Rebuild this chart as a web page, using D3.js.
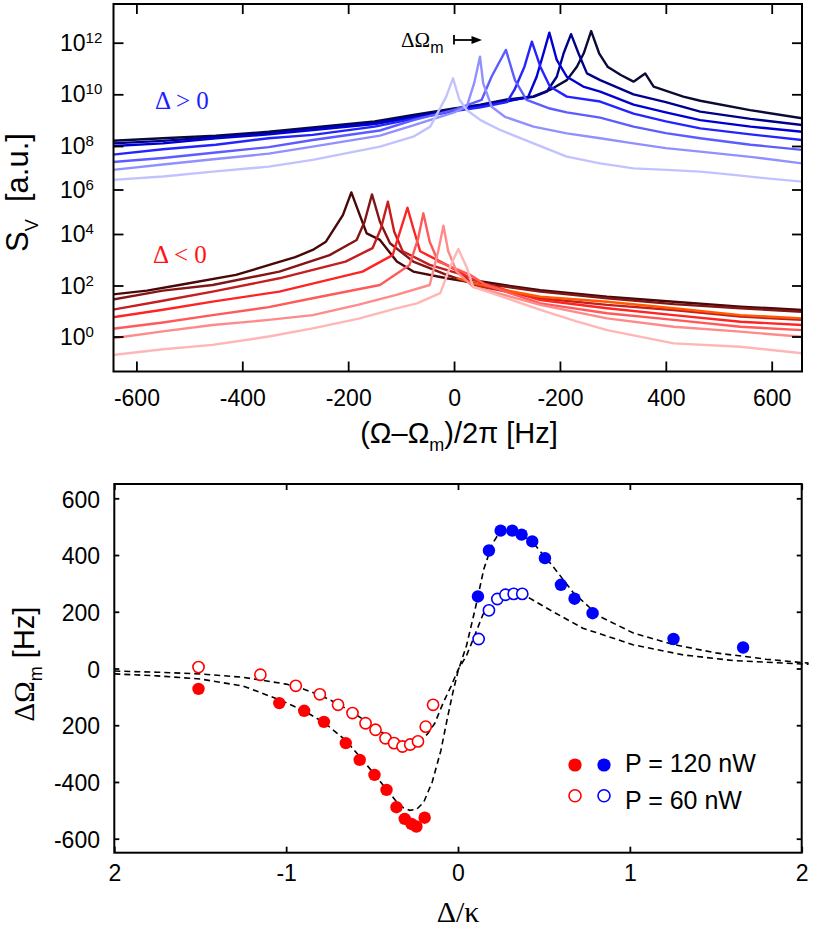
<!DOCTYPE html>
<html>
<head>
<meta charset="utf-8">
<script src="https://cdn.jsdelivr.net/npm/d3@7"></script>
<style>
  body { margin: 0; background: #fff; }
  svg { display: block; }
  text { font-family: "Liberation Sans", Arial, sans-serif; fill: #000; }
  .serif { font-family: "Liberation Serif", "Times New Roman", serif; }
</style>
</head>
<body>
<svg id="chart" width="830" height="929"></svg>
<script>
// ---- Top panel: spectra, [detuning in Hz, log10 S_V] ----
const topXTicks = [-600, -400, -200, 0, 200, 400, 600];
const topXLabels = ['-600', '-400', '-200', '0', '-200', '400', '600'];
const topYExps = [0, 2, 4, 6, 8, 10, 12];

// Delta > 0 (blue), lightest first
const blue1 = [[-645, 6.44], [-550, 6.6], [-455, 6.82], [-350, 7.05], [-267, 7.36], [-140, 7.97], [-77, 8.36], [-45, 8.75], [-15, 9.9], [-2, 10.62], [10, 9.8], [24, 9.39], [50, 9.0], [87, 8.62], [150, 8.1], [213, 7.51], [276, 7.2], [339, 6.97], [402, 6.9], [465, 6.82], [528, 6.67], [591, 6.51], [658, 6.36]];
const blue2 = [[-645, 6.9], [-550, 7.15], [-450, 7.4], [-350, 7.65], [-267, 7.97], [-140, 8.4], [-77, 8.8], [0, 9.3], [24, 9.52], [38, 10.43], [49, 11.46], [55, 10.43], [71, 9.52], [96, 9.13], [150, 8.75], [213, 8.49], [276, 8.3], [339, 8.1], [400, 7.9], [465, 7.74], [560, 7.5], [658, 7.2]];
const blue3 = [[-645, 7.26], [-550, 7.45], [-450, 7.7], [-350, 7.95], [-267, 8.23], [-140, 8.6], [-77, 9.0], [0, 9.4], [52, 9.78], [71, 10.69], [98, 11.72], [115, 10.55], [137, 9.78], [181, 9.45], [213, 9.3], [276, 9.1], [339, 8.75], [400, 8.5], [465, 8.3], [560, 8.05], [658, 7.82]];
const blue4 = [[-645, 7.6], [-550, 7.85], [-450, 8.05], [-350, 8.3], [-267, 8.43], [-150, 8.75], [-77, 9.05], [0, 9.35], [50, 9.5], [100, 9.7], [114, 10.17], [133, 11.07], [147, 12.04], [163, 11.07], [181, 10.3], [213, 9.91], [276, 9.72], [339, 9.25], [400, 8.95], [465, 8.68], [560, 8.45], [658, 8.23]];
const blue5 = [[-645, 8.0], [-550, 8.1], [-450, 8.3], [-350, 8.45], [-267, 8.62], [-150, 8.85], [-77, 9.1], [0, 9.38], [50, 9.55], [100, 9.72], [140, 9.9], [156, 10.68], [169, 11.59], [180, 12.39], [194, 11.33], [213, 10.68], [244, 10.3], [276, 10.1], [339, 9.6], [400, 9.3], [465, 9.0], [560, 8.75], [658, 8.55]];
const blue6 = [[-645, 8.1], [-550, 8.2], [-450, 8.35], [-350, 8.5], [-267, 8.68], [-150, 8.9], [-77, 9.15], [0, 9.4], [50, 9.58], [100, 9.75], [150, 9.9], [175, 10.1], [194, 10.68], [207, 11.59], [221, 12.33], [235, 11.59], [251, 10.81], [276, 10.55], [339, 10.0], [400, 9.7], [465, 9.33], [560, 9.05], [658, 8.81]];
const blue7 = [[-645, 8.2], [-550, 8.3], [-450, 8.4], [-350, 8.55], [-267, 8.72], [-150, 8.95], [-77, 9.2], [0, 9.45], [50, 9.6], [100, 9.8], [150, 9.92], [181, 10.17], [213, 10.55], [232, 11.07], [245, 11.59], [259, 12.45], [274, 11.59], [290, 11.07], [315, 10.75], [339, 10.49], [361, 10.81], [377, 10.3], [433, 9.91], [465, 9.75], [559, 9.39], [658, 9.07]];
const blueColors = ['#c2c2ff', '#9090ff', '#5c5cff', '#2424ff', '#0000d2', '#00008c', '#0a0a36'];

// Delta < 0 (red), lightest first
const red1 = [[-645, -0.73], [-550, -0.5], [-456, -0.33], [-350, 0.0], [-267, 0.32], [-180, 0.7], [-109, 1.1], [-70, 1.3], [-26, 1.7], [-8, 2.7], [8, 3.42], [24, 2.7], [36, 1.95], [100, 1.5], [163, 1.04], [230, 0.6], [289, 0.25], [415, -0.27], [541, -0.4], [658, -0.66]];
const red2 = [[-645, -0.07], [-550, 0.2], [-456, 0.45], [-350, 0.65], [-267, 0.84], [-180, 1.25], [-109, 1.63], [-46, 2.02], [-30, 3.33], [-20, 4.37], [-11, 3.33], [5, 2.54], [36, 1.95], [100, 1.6], [163, 1.24], [289, 0.71], [415, 0.38], [541, 0.19], [658, -0.01]];
const red3 = [[-645, 0.3], [-550, 0.55], [-456, 0.84], [-350, 1.15], [-267, 1.5], [-140, 2.02], [-84, 2.8], [-68, 3.81], [-58, 4.93], [-46, 3.7], [-30, 2.93], [31, 2.41], [60, 2.02], [163, 1.3], [289, 0.91], [415, 0.65], [541, 0.38], [658, 0.25]];
const red4 = [[-645, 0.75], [-550, 1.05], [-456, 1.37], [-330, 1.76], [-173, 2.54], [-116, 3.18], [-100, 4.26], [-88, 5.18], [-77, 4.26], [-64, 3.33], [-14, 2.8], [31, 2.28], [60, 2.05], [163, 1.43], [289, 1.11], [415, 0.84], [541, 0.58], [658, 0.45]];
const red5 = [[-645, 1.05], [-550, 1.4], [-456, 1.76], [-330, 2.28], [-205, 2.93], [-154, 3.45], [-138, 4.26], [-125, 5.45], [-113, 4.1], [-97, 3.33], [-46, 2.8], [17, 2.41], [36, 2.02], [163, 1.5], [289, 1.24], [415, 1.04], [541, 0.78], [658, 0.65]];
const red6 = [[-645, 1.45], [-550, 1.8], [-456, 2.02], [-330, 2.54], [-235, 3.18], [-184, 3.77], [-169, 4.55], [-155, 5.78], [-140, 4.55], [-121, 3.64], [-77, 2.93], [-14, 2.41], [31, 2.1], [100, 1.95], [163, 1.76], [289, 1.5], [415, 1.27], [541, 1.11], [658, 0.97]];
const red7 = [[-645, 1.65], [-580, 1.8], [-519, 2.02], [-412, 2.41], [-349, 2.8], [-300, 3.1], [-267, 3.38], [-242, 3.7], [-210, 4.85], [-194, 5.87], [-178, 4.85], [-165, 4.03], [-140, 3.77], [-108, 2.93], [-77, 2.54], [-14, 2.28], [24, 2.15], [36, 2.21], [100, 2.0], [163, 1.82], [289, 1.56], [415, 1.36], [541, 1.17], [658, 1.04]];
const orangeTrace = [[5, 2.3], [36, 2.09], [100, 1.8], [163, 1.56], [289, 1.36], [415, 1.11], [541, 0.84], [658, 0.71]];
const redColors = ['#ffb6b6', '#ff8a8a', '#ff5a5a', '#ff2424', '#c41e1e', '#821616', '#480808'];
const orangeColor = '#ff5a00';

// ---- Bottom panel: frequency shift vs detuning, [Delta/kappa, Hz] ----
const botXTicks = [-2, -1, 0, 1, 2];
const botXLabels = ['2', '-1', '0', '1', '2'];
const botYTicks = [600, 400, 200, 0, -200, -400, -600];
const botYLabels = ['600', '400', '200', '0', '200', '-400', '-600'];

const red120 = [[-1.51, -72], [-1.04, -122], [-0.895, -149], [-0.78, -188], [-0.653, -263], [-0.572, -322], [-0.486, -375], [-0.416, -428], [-0.358, -489], [-0.31, -530], [-0.271, -548], [-0.242, -557], [-0.194, -526]];
const red60 = [[-1.51, 5], [-1.15, -22], [-0.944, -61], [-0.804, -91], [-0.698, -128], [-0.614, -157], [-0.538, -193], [-0.48, -216], [-0.422, -246], [-0.372, -263], [-0.323, -275], [-0.278, -268], [-0.233, -257], [-0.188, -205], [-0.145, -128]];
const blue120 = [[0.116, 254], [0.18, 416], [0.248, 486], [0.316, 486], [0.37, 472], [0.432, 448], [0.506, 389], [0.599, 295], [0.678, 246], [0.783, 195], [1.254, 104], [1.659, 74]];
const blue60 = [[0.12, 104], [0.18, 205], [0.229, 245], [0.276, 260], [0.324, 263], [0.374, 263]];

const fit120 = [[-2, -19], [-1.75, -26], [-1.5, -37], [-1.25, -62], [-1.04, -110], [-0.9, -148], [-0.78, -190], [-0.65, -255], [-0.57, -312], [-0.49, -370], [-0.42, -423], [-0.36, -468], [-0.32, -490], [-0.28, -500], [-0.24, -496], [-0.2, -472], [-0.15, -400], [-0.1, -290], [-0.06, -170], [-0.03, -85], [0, -10], [0.05, 82], [0.1, 210], [0.15, 350], [0.2, 440], [0.24, 478], [0.28, 490], [0.33, 486], [0.43, 448], [0.55, 362], [0.67, 268], [0.82, 185], [1.02, 125], [1.25, 85], [1.5, 55], [1.79, 33], [2.0, 21], [2.04, 19]];
const fit60 = [[-2, -9], [-1.75, -13], [-1.5, -19], [-1.25, -31], [-1.0, -55], [-0.9, -72], [-0.8, -95], [-0.7, -124], [-0.6, -160], [-0.5, -200], [-0.42, -235], [-0.36, -255], [-0.3, -266], [-0.25, -262], [-0.2, -245], [-0.174, -228], [-0.135, -193], [-0.087, -122], [-0.04, -62], [0, -5], [0.049, 45], [0.087, 101], [0.145, 190], [0.2, 238], [0.25, 258], [0.3, 266], [0.34, 267], [0.417, 248], [0.533, 207], [0.727, 142], [1.017, 84], [1.31, 48], [1.6, 28], [2.0, 16], [2.04, 15]];

const legendLabels = ['P = 120 nW', 'P = 60 nW'];

// ---- Layout ----
const TOP = { LEFT: 113.5, RIGHT: 802, TOP: 4, BOTTOM: 371.5 };
const BOT = { LEFT: 114.3, RIGHT: 801.7, TOP: 484, BOTTOM: 852.7 };
const RED = '#ff0000';
const BLUE = '#0000ff';

const svg = d3.select('#chart');

function cleanAxis(g, fontSize) {
  g.attr('font-size', null).attr('font-family', null);
  g.select('.domain').remove();
  g.selectAll('.tick line').attr('stroke', '#000').attr('stroke-width', 1.8);
  g.selectAll('.tick text').attr('font-size', fontSize);
}

// ================= TOP PANEL =================
const xTop = d3.scaleLinear().domain([-600, 600]).range([136.4, 771.7]);
// tick spacing in the figure is uneven, so use a piecewise log scale
const yTop = d3.scaleLog()
  .domain(topYExps.map(e => 10 ** e))
  .range([336.5, 285.5, 234, 189.5, 146, 94.3, 42.7]);

svg.append('clipPath').attr('id', 'clipTop')
  .append('rect')
  .attr('x', TOP.LEFT).attr('y', TOP.TOP)
  .attr('width', TOP.RIGHT - TOP.LEFT).attr('height', TOP.BOTTOM - TOP.TOP);

const lineTop = d3.line()
  .x(d => xTop(d[0]))
  .y(d => yTop(10 ** d[1]));

const traces = svg.append('g').attr('clip-path', 'url(#clipTop)');

function drawTrace(data, color) {
  traces.append('path')
    .datum(data)
    .attr('d', lineTop)
    .attr('fill', 'none')
    .attr('stroke', color)
    .attr('stroke-width', 2.4)
    .attr('stroke-linejoin', 'round');
}

// darkest first so the lighter ones sit on top
const blueSet = [blue1, blue2, blue3, blue4, blue5, blue6, blue7];
const redSet = [red1, red2, red3, red4, red5, red6, red7];
for (let i = blueSet.length - 1; i >= 0; i -= 1) {
  drawTrace(blueSet[i], blueColors[i]);
}
for (let i = redSet.length - 1; i >= 0; i -= 1) {
  drawTrace(redSet[i], redColors[i]);
  if (i === 3) drawTrace(orangeTrace, orangeColor);
}

// axes (inward ticks on all four sides)
svg.append('g')
  .attr('transform', `translate(0,${TOP.BOTTOM})`)
  .call(d3.axisBottom(xTop).tickValues(topXTicks).tickSize(-10).tickFormat((d, i) => topXLabels[i]))
  .call(g => cleanAxis(g, 23))
  .call(g => g.selectAll('.tick text').attr('y', 34.5).attr('dy', null));
svg.append('g')
  .attr('transform', `translate(0,${TOP.TOP})`)
  .call(d3.axisTop(xTop).tickValues(topXTicks).tickSize(-10).tickFormat(() => ''))
  .call(g => cleanAxis(g, 23));
svg.append('g')
  .attr('transform', `translate(${TOP.LEFT},0)`)
  .call(d3.axisLeft(yTop).tickValues(topYExps.map(e => 10 ** e)).tickSize(-10).tickFormat(() => ''))
  .call(g => cleanAxis(g, 23));
svg.append('g')
  .attr('transform', `translate(${TOP.RIGHT},0)`)
  .call(d3.axisRight(yTop).tickValues(topYExps.map(e => 10 ** e)).tickSize(-10).tickFormat(() => ''))
  .call(g => cleanAxis(g, 23));

// 10^n labels
const yLab = svg.append('g');
topYExps.forEach((e) => {
  const t = yLab.append('text')
    .attr('x', 60)
    .attr('y', yTop(10 ** e) + 8)
    .attr('font-size', 23);
  t.append('tspan').text('10');
  t.append('tspan').attr('font-size', 15).attr('dy', -8).text(e);
});

svg.append('rect')
  .attr('x', TOP.LEFT).attr('y', TOP.TOP)
  .attr('width', TOP.RIGHT - TOP.LEFT).attr('height', TOP.BOTTOM - TOP.TOP)
  .attr('fill', 'none').attr('stroke', '#000').attr('stroke-width', 2);

// axis titles
const yTitleTop = svg.append('text')
  .attr('transform', 'translate(28,192.5) rotate(-90)')
  .attr('text-anchor', 'middle')
  .attr('font-size', 31);
yTitleTop.append('tspan').text('S');
yTitleTop.append('tspan').attr('font-size', 18).attr('dy', 10).text('V');
yTitleTop.append('tspan').attr('dy', -10).text('\u00a0\u00a0[a.u.]');

const xTitleTop = svg.append('text')
  .attr('x', 459).attr('y', 443)
  .attr('text-anchor', 'middle')
  .attr('font-size', 29);
xTitleTop.append('tspan').text('(\u03a9\u2013\u03a9');
xTitleTop.append('tspan').attr('font-size', 18).attr('dy', 8).text('m');
xTitleTop.append('tspan').attr('dy', -8).text(')/2\u03c0 [Hz]');

// annotations
svg.append('text').attr('class', 'serif')
  .attr('x', 155).attr('y', 109).attr('font-size', 25)
  .style('fill', '#1e1eff')
  .text('\u0394 > 0');
svg.append('text').attr('class', 'serif')
  .attr('x', 153).attr('y', 263).attr('font-size', 25)
  .style('fill', '#ff1414')
  .text('\u0394 < 0');

const shiftLab = svg.append('text').attr('x', 401).attr('y', 46.7);
shiftLab.append('tspan').attr('class', 'serif').attr('font-size', 21).text('\u0394\u03a9');
shiftLab.append('tspan').attr('font-size', 16).attr('dy', 6.6).text('m');
svg.append('line')
  .attr('x1', 454).attr('x2', 474).attr('y1', 40).attr('y2', 40)
  .attr('stroke', '#000').attr('stroke-width', 1.8);
svg.append('line')
  .attr('x1', 454).attr('x2', 454).attr('y1', 35).attr('y2', 44.5)
  .attr('stroke', '#000').attr('stroke-width', 1.8);
svg.append('path')
  .attr('d', 'M471.5,36 L482,40 L471.5,44 Z')
  .attr('fill', '#000');

// ================= BOTTOM PANEL =================
const xBot = d3.scaleLinear().domain([-2, 2]).range([BOT.LEFT, BOT.RIGHT]);
const yBot = d3.scaleLinear().domain([-600, 600]).range([838.7, 498.3]);

const lineBot = d3.line()
  .x(d => xBot(d[0]))
  .y(d => yBot(d[1]));

[fit120, fit60].forEach((fit) => {
  svg.append('path')
    .datum(fit)
    .attr('d', lineBot)
    .attr('fill', 'none')
    .attr('stroke', '#000')
    .attr('stroke-width', 1.6)
    .attr('stroke-dasharray', '6,4');
});

function filledPoints(data, color) {
  svg.append('g').selectAll('circle')
    .data(data)
    .join('circle')
    .attr('cx', d => xBot(d[0]))
    .attr('cy', d => yBot(d[1]))
    .attr('r', 6.2)
    .attr('fill', color);
}
function openPoints(data, color) {
  svg.append('g').selectAll('circle')
    .data(data)
    .join('circle')
    .attr('cx', d => xBot(d[0]))
    .attr('cy', d => yBot(d[1]))
    .attr('r', 5.6)
    .attr('fill', '#fff')
    .attr('stroke', color)
    .attr('stroke-width', 1.6);
}
filledPoints(red120, RED);
filledPoints(blue120, BLUE);
openPoints(red60, RED);
openPoints(blue60, BLUE);

svg.append('g')
  .attr('transform', `translate(0,${BOT.BOTTOM})`)
  .call(d3.axisBottom(xBot).tickValues(botXTicks).tickSize(-6).tickFormat((d, i) => botXLabels[i]))
  .call(g => cleanAxis(g, 23))
  .call(g => g.selectAll('.tick text').attr('y', 28.3).attr('dy', null));
svg.append('g')
  .attr('transform', `translate(0,${BOT.TOP})`)
  .call(d3.axisTop(xBot).tickValues(botXTicks).tickSize(-6).tickFormat(() => ''))
  .call(g => cleanAxis(g, 23));
svg.append('g')
  .attr('transform', `translate(${BOT.LEFT},0)`)
  .call(d3.axisLeft(yBot).tickValues(botYTicks).tickSize(-5).tickFormat((d, i) => botYLabels[i]))
  .call(g => cleanAxis(g, 23))
  .call(g => g.selectAll('.tick text').attr('x', 100 - BOT.LEFT).attr('dy', '0.38em'));
svg.append('g')
  .attr('transform', `translate(${BOT.RIGHT},0)`)
  .call(d3.axisRight(yBot).tickValues(botYTicks).tickSize(-5).tickFormat(() => ''))
  .call(g => cleanAxis(g, 23));

svg.append('rect')
  .attr('x', BOT.LEFT).attr('y', BOT.TOP)
  .attr('width', BOT.RIGHT - BOT.LEFT).attr('height', BOT.BOTTOM - BOT.TOP)
  .attr('fill', 'none').attr('stroke', '#000').attr('stroke-width', 2);

// legend
const legend = svg.append('g');
[[RED, BLUE, true], [RED, BLUE, false]].forEach((row, i) => {
  const cy = 765 + i * 30.7;
  [575, 604].forEach((cx, j) => {
    legend.append('circle')
      .attr('cx', cx).attr('cy', cy)
      .attr('r', row[2] ? 6.6 : 6)
      .attr('fill', row[2] ? row[j] : '#fff')
      .attr('stroke', row[2] ? 'none' : row[j])
      .attr('stroke-width', 1.6);
  });
  legend.append('text')
    .attr('x', 625).attr('y', 772 + i * 37)
    .attr('font-size', 25)
    .text(legendLabels[i]);
});

// axis titles
const yTitleBot = svg.append('text')
  .attr('transform', 'translate(34,664) rotate(-90)')
  .attr('text-anchor', 'middle')
  .attr('font-size', 29);
yTitleBot.append('tspan').attr('class', 'serif').text('\u0394\u03a9');
yTitleBot.append('tspan').attr('font-size', 18).attr('dy', 8).text('m');
yTitleBot.append('tspan').attr('dy', -8).text('\u00a0[Hz]');

svg.append('text').attr('class', 'serif')
  .attr('x', 458).attr('y', 922)
  .attr('text-anchor', 'middle')
  .attr('font-size', 30)
  .text('\u0394/\u03ba');
</script>
</body>
</html>
